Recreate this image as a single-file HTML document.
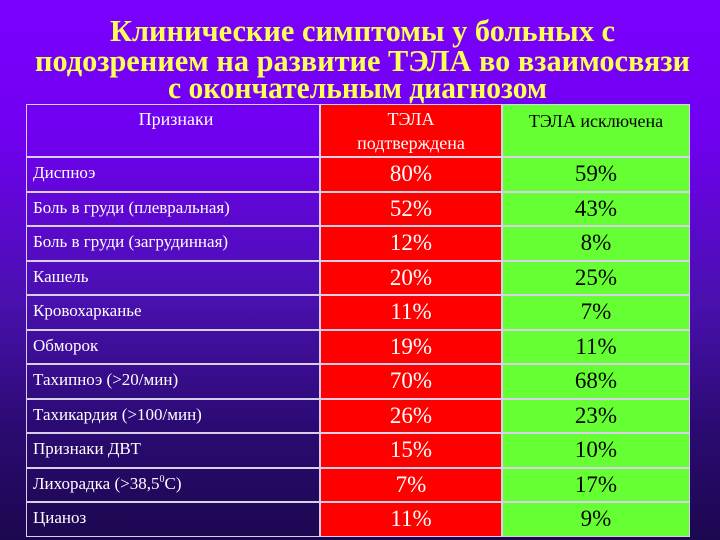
<!DOCTYPE html>
<html><head><meta charset="utf-8"><style>
html,body{margin:0;padding:0}
body{width:720px;height:540px;overflow:hidden;position:relative;background:linear-gradient(180deg,#7a00ff 0%,#7000f0 25%,#4a10b0 55%,#2a0a70 80%,#1c0850 100%);font-family:"Liberation Serif","Noto Serif CJK SC",serif}
.c{position:absolute;box-sizing:border-box;border:1px solid #d8d0e8;display:flex;align-items:center}
.l{color:#fff;font-size:17px;padding-left:6px;background:transparent}
.r{background:#ff0000;color:#fff;font-size:23px;justify-content:center}
.g{background:#66ff33;color:#000;font-size:23px;justify-content:center}
</style></head><body>
<svg width="720" height="105" style="position:absolute;left:0;top:0">
<g fill="#ffff55" font-family="Liberation Serif, serif" font-size="31" font-weight="bold" text-anchor="start">
<text x="110" y="41" textLength="505" lengthAdjust="spacingAndGlyphs">Клинические симптомы у больных с</text>
<text x="35" y="71" textLength="655" lengthAdjust="spacingAndGlyphs">подозрением на развитие ТЭЛА во взаимосвязи</text>
<text x="168" y="98" textLength="379" lengthAdjust="spacingAndGlyphs">с окончательным диагнозом</text>
</g></svg>
<div id="t"></div>
<script>
const signs=["Диспноэ","Боль в груди (плевральная)","Боль в груди (загрудинная)","Кашель","Кровохарканье","Обморок","Тахипноэ (>20/мин)","Тахикардия (>100/мин)","Признаки ДВТ","Лихорадка (>38,5<sup style='font-size:10px'>0</sup>C)","Цианоз"];
const confirmed=[80,52,12,20,11,19,70,26,15,7,11];
const excluded=[59,43,8,25,7,11,68,23,10,17,9];
const t=document.getElementById('t');
const X=[26,320,502,690],top0=104,hh=53,rh=34.5;
function cell(cls,x0,x1,y,h,html){const d=document.createElement('div');d.className='c '+cls;d.style.left=x0+'px';d.style.top=y+'px';d.style.width=(x1-x0)+'px';d.style.height=h+'px';d.innerHTML=html;t.appendChild(d);return d;}
let h1=cell('l',X[0],X[1],top0,hh,'Признаки');


h1.style.justifyContent='center';h1.style.alignItems='flex-start';h1.style.paddingTop='4px';h1.style.fontSize='18px';
let h2=cell('r',X[1],X[2],top0,hh,'ТЭЛА<br>подтверждена');


h2.style.fontSize='18px';h2.style.textAlign='center';h2.style.lineHeight='24px';
let h3=cell('g',X[2],X[3],top0,hh,'ТЭЛА исключена');


h3.style.fontSize='18px';h3.style.alignItems='flex-start';h3.style.paddingTop='6px';
for(let i=0;i<signs.length;i++){
 const y=top0+hh+i*rh;
 let a=cell('l',X[0],X[1],y,rh,signs[i]);
 
 
 a.style.alignItems='flex-start';a.style.paddingTop='5px';
 let b=cell('r',X[1],X[2],y,rh,confirmed[i]+'%');
 
 
 let c=cell('g',X[2],X[3],y,rh,excluded[i]+'%');
 
 
}
</script>
</body></html>
